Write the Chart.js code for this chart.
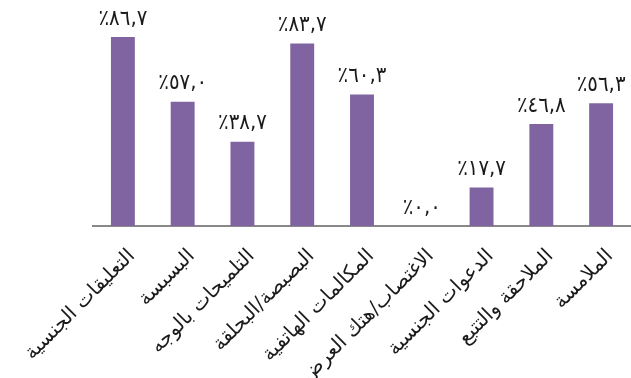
<!DOCTYPE html>
<html lang="ar">
<head>
<meta charset="utf-8">
<title>chart</title>
<script src="https://cdn.jsdelivr.net/npm/chart.js@4/dist/chart.umd.min.js"></script>
<style>
    html, body { margin: 0; padding: 0; background: #fff; }
    #wrap { width: 631px; height: 378px; }
</style>
</head>
<body>
<div id="wrap"><canvas id="myChart" width="631" height="378"></canvas></div>
<script>
// Categories, left to right as in the picture
const categories = [
    "التعليقات الجنسية",
    "البسبسة",
    "التلميحات بالوجه",
    "البصبصة/البحلقة",
    "المكالمات الهاتفية",
    "الاغتصاب/هتك العرض",
    "الدعوات الجنسية",
    "الملاحقة والتتبع",
    "الملامسة"
];

// Percentages
const values = [86.7, 57.0, 38.7, 83.7, 60.3, 0.0, 17.7, 46.8, 56.3];

// y axis range (axis itself is hidden)
const yTicks = [0, 100];

/** An IIFE that builds the bar chart
*/
(function () {
    const arabicDigits = ['٠', '١', '٢', '٣', '٤', '٥', '٦', '٧', '٨', '٩'];

    // 86.7 -> "٪٨٦,٧"
    function formatLabel(v) {
        let s = v.toFixed(1).replace('.', ',');
        s = s.replace(/[0-9]/g, function (d) { return arabicDigits[+d]; });
        return '٪' + s;
    }

    // Small plugin to write the value above each bar
    const valueLabels = {
        id: 'valueLabels',
        afterDatasetsDraw(chart) {
            const ctx = chart.ctx;
            const meta = chart.getDatasetMeta(0);
            ctx.save();
            ctx.font = '22px "DejaVu Sans Condensed", "DejaVu Sans", sans-serif';
            ctx.fillStyle = '#1a1a1a';
            ctx.textAlign = 'center';
            ctx.textBaseline = 'bottom';
            ctx.direction = 'ltr';
            if ('letterSpacing' in ctx) ctx.letterSpacing = '-1px';
            meta.data.forEach(function (bar, i) {
                ctx.fillText(formatLabel(values[i]), bar.x, bar.y - 7);
            });
            ctx.restore();
        }
    };

    // Rotated category labels, anchored a bit right of each tick
    const slantedTicks = {
        id: 'slantedTicks',
        afterDraw(chart) {
            const ctx = chart.ctx;
            const xScale = chart.scales.x;
            ctx.save();
            ctx.font = '20px "DejaVu Sans", sans-serif';
            ctx.fillStyle = '#1a1a1a';
            ctx.textAlign = 'right';
            ctx.textBaseline = 'middle';
            categories.forEach(function (label, i) {
                const x = xScale.getPixelForTick(i) + 9;
                const y = xScale.top + 27;
                ctx.save();
                ctx.translate(x, y);
                ctx.rotate(-Math.PI / 4);
                ctx.fillText(label, 0, 0);
                ctx.restore();
            });
            ctx.restore();
        }
    };

    const canvas = document.getElementById('myChart');
    const ctx = canvas.getContext('2d');

    new Chart(ctx, {
        type: 'bar',
        data: {
            labels: categories,
            datasets: [{
                data: values,
                backgroundColor: '#8064A2',
                borderWidth: 0,
                barPercentage: 0.4,
                categoryPercentage: 1.0
            }]
        },
        options: {
            responsive: false,
            animation: false,
            layout: {
                padding: { top: 8, right: 0, left: 0, bottom: 0 }
            },
            plugins: {
                legend: { display: false },
                tooltip: { enabled: false }
            },
            scales: {
                x: {
                    grid: { display: false, drawTicks: false },
                    border: { display: true, color: '#898989', width: 2 },
                    ticks: { display: false },
                    // pin the plot box to where the reference has it
                    afterFit: function (scale) {
                        scale.height = 152;
                        scale.paddingLeft = 93;
                        scale.paddingRight = 0;
                    }
                },
                y: {
                    display: false,
                    min: yTicks[0],
                    max: yTicks[1]
                }
            }
        },
        plugins: [valueLabels, slantedTicks]
    });
})();
</script>
</body>
</html>
